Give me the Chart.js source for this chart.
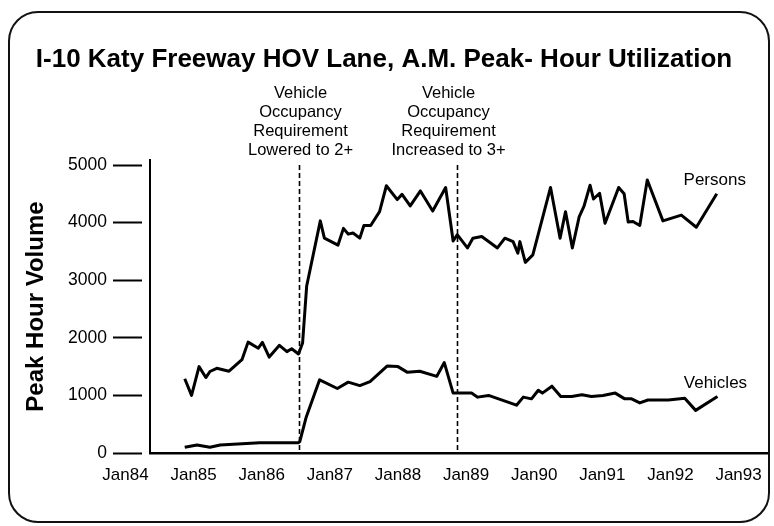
<!DOCTYPE html>
<html><head><meta charset="utf-8">
<script src="https://cdn.jsdelivr.net/npm/chart.js@4/dist/chart.umd.min.js"></script>
<style>
html,body{margin:0;padding:0;background:#fff;}
#wrap{position:relative;width:774px;height:526px;overflow:hidden;}
#frame{position:absolute;left:8px;top:11px;width:762px;height:512px;box-sizing:border-box;border:2px solid #111;border-radius:30px;pointer-events:none;}
canvas{position:absolute;left:0;top:0;}
</style></head><body>
<div id="wrap"><canvas id="c" width="774" height="526"></canvas><div id="frame"></div></div>
<script>
const chartTitle = "I-10 Katy Freeway HOV Lane, A.M. Peak- Hour Utilization";
const yAxisTitle = "Peak Hour Volume";
const xTickYears = [1984,1985,1986,1987,1988,1989,1990,1991,1992,1993];
const xTickLabels = ["Jan84","Jan85","Jan86","Jan87","Jan88","Jan89","Jan90","Jan91","Jan92","Jan93"];
const yTicks = [0,1000,2000,3000,4000,5000];
const seriesNames = ["Persons","Vehicles"];

const personsDates = [1984.87,1984.97,1985.08,1985.18,1985.24,1985.34,1985.52,1985.71,1985.80,1985.95,
1986.01,1986.11,1986.26,1986.37,1986.44,1986.54,1986.60,1986.66,1986.86,1986.92,
1987.12,1987.20,1987.27,1987.34,1987.44,1987.50,1987.60,1987.73,1987.83,1987.99,
1988.06,1988.18,1988.33,1988.51,1988.70,1988.81,1988.87,1989.02,1989.10,1989.23,
1989.46,1989.57,1989.69,1989.76,1989.79,1989.87,1989.98,1990.24,1990.38,1990.46,
1990.56,1990.66,1990.73,1990.82,1990.87,1990.96,1991.04,1991.24,1991.32,1991.38,
1991.45,1991.55,1991.66,1991.89,1992.16,1992.38,1992.68];
const personsValues = [1290,1000,1500,1310,1415,1470,1420,1620,1925,1820,
1920,1665,1870,1760,1810,1720,1910,2900,4030,3730,
3610,3900,3800,3820,3730,3950,3950,4190,4640,4400,
4490,4290,4550,4200,4610,3680,3790,3560,3730,3760,
3560,3730,3670,3470,3670,3310,3440,4610,3730,4190,
3560,4100,4280,4650,4410,4510,3990,4610,4500,4010,
4020,3950,4740,4030,4130,3920,4500];

const vehiclesDates = [1984.87,1985.05,1985.24,1985.39,1985.97,1986.54,1986.56,1986.65,1986.85,1987.11,
1987.27,1987.44,1987.59,1987.84,1988.00,1988.14,1988.32,1988.57,1988.68,1988.81,
1989.08,1989.17,1989.33,1989.74,1989.84,1989.96,1990.06,1990.12,1990.26,1990.39,
1990.55,1990.70,1990.84,1991.01,1991.19,1991.33,1991.43,1991.55,1991.67,1991.97,
1992.21,1992.37,1992.69];
const vehiclesValues = [100,140,100,140,180,180,200,610,1270,1120,
1230,1170,1240,1510,1500,1400,1420,1330,1570,1040,
1040,970,1000,830,970,940,1090,1040,1160,980,
980,1010,980,1000,1040,940,940,870,920,920,
950,740,980];

const eventDates = [1986.55, 1988.87];
const eventLabels = [
  ["Vehicle","Occupancy","Requirement","Lowered to 2+"],
  ["Vehicle","Occupancy","Requirement","Increased to 3+"]
];

const FONT = "'Liberation Sans', Arial, Helvetica, sans-serif";
Chart.defaults.font.family = FONT;
Chart.defaults.color = '#000';

const toPts = (xs, ys) => xs.map((x, i) => ({x: x, y: ys[i]}));

const annotate = {
  id: 'annotate',
  afterDatasetsDraw(chart) {
    const {ctx, chartArea, scales: {x, y}} = chart;
    ctx.save();
    const textOffsets = [1, -9];
    eventDates.forEach((d, i) => {
      const px = Math.round(x.getPixelForValue(d)) + 0.5;
      ctx.beginPath();
      ctx.setLineDash([5, 3]);
      ctx.lineWidth = 1.6;
      ctx.strokeStyle = '#000';
      ctx.moveTo(px, y.getPixelForValue(5000));
      ctx.lineTo(px, chartArea.bottom);
      ctx.stroke();
      ctx.setLineDash([]);
      ctx.font = "16.5px " + FONT;
      ctx.fillStyle = '#000';
      ctx.textAlign = 'center';
      ctx.textBaseline = 'middle';
      eventLabels[i].forEach((t, j) => {
        ctx.fillText(t, px + textOffsets[i], chartArea.top - 67 + j * 19);
      });
    });
    ctx.font = "17px " + FONT;
    ctx.textAlign = 'center';
    ctx.textBaseline = 'middle';
    chart.data.datasets.forEach((ds, i) => {
      const meta = chart.getDatasetMeta(i);
      const last = meta.data[meta.data.length - 1];
      ctx.fillText(ds.label, last.x - 2, last.y - 13);
    });
    ctx.restore();
  }
};

new Chart(document.getElementById('c'), {
  type: 'line',
  data: {
    datasets: [
      {label: seriesNames[0], data: toPts(personsDates, personsValues), borderColor: '#000', borderWidth: 3, pointRadius: 0, tension: 0, fill: false, borderJoinStyle: 'round'},
      {label: seriesNames[1], data: toPts(vehiclesDates, vehiclesValues), borderColor: '#000', borderWidth: 3, pointRadius: 0, tension: 0, fill: false, borderJoinStyle: 'round'}
    ]
  },
  options: {
    responsive: false,
    animation: false,
    devicePixelRatio: 1,
    layout: {padding: {left: 0, right: 6, top: 0, bottom: 0}},
    plugins: {
      legend: {display: false},
      tooltip: {enabled: false},
      title: {
        display: true, text: chartTitle, color: '#000',
        font: {size: 26, weight: 'bold', family: FONT, lineHeight: 1.2},
        padding: {top: 44, bottom: 84.8}
      }
    },
    scales: {
      x: {
        type: 'linear',
        min: 1984.36, max: 1993.43,
        afterBuildTicks: s => { s.ticks = xTickYears.map(v => ({value: v})); },
        afterFit: s => { s.height = 73; },
        ticks: {
          autoSkip: false, maxRotation: 0, minRotation: 0, padding: 12,
          font: {size: 17, family: FONT}, color: '#000',
          callback: (v, i) => xTickLabels[i]
        },
        grid: {display: false, drawTicks: false},
        border: {display: true, color: '#000', width: 2.5}
      },
      y: {
        type: 'linear',
        min: 0, max: 5087,
        afterBuildTicks: s => { s.ticks = yTicks.map(v => ({value: v})); },
        afterFit: s => { s.width = 150; },
        ticks: {
          padding: 6, font: {size: 17.5, family: FONT}, color: '#000',
          callback: v => String(v)
        },
        grid: {display: true, drawOnChartArea: false, drawTicks: true, tickLength: 37,
               tickWidth: 2, tickColor: '#000', tickBorderDash: [29, 100]},
        border: {display: true, color: '#000', width: 2},
        title: {display: true, text: yAxisTitle, color: '#000',
                font: {size: 24, weight: 'bold', family: FONT, lineHeight: 1.2}, padding: {top: 22, bottom: 0}}
      }
    }
  },
  plugins: [annotate]
});
</script>
</body></html>
